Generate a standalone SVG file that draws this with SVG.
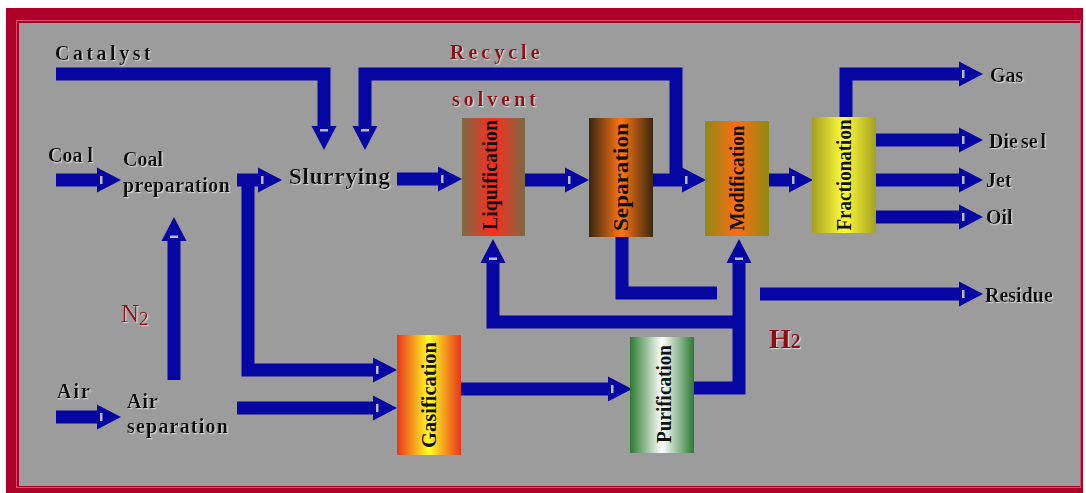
<svg xmlns="http://www.w3.org/2000/svg" width="1086" height="493" viewBox="0 0 1086 493">
  <style>
    .flow { fill: none; stroke: #0606a2; stroke-width: 13; stroke-linejoin: miter; stroke-linecap: butt; }
    .arr { marker-end: url(#head); }
    .lbl { font-family: "Liberation Serif", "Times New Roman", serif; font-weight: bold; font-size: 20px; fill: #111; filter: url(#glow); }
    .red { fill: #8e0c14; }
    .box { stroke: none; }
    .vt { font-family: "Liberation Serif", "Times New Roman", serif; font-weight: bold; font-size: 21px; fill: #111; text-anchor: middle; }
  </style>
  <defs>
    <filter id="glow" x="-10%" y="-30%" width="130%" height="160%">
      <feDropShadow dx="1.2" dy="1.2" stdDeviation="0.6" flood-color="#ffffff" flood-opacity="0.55"/>
    </filter>
    <marker id="head" markerUnits="userSpaceOnUse" viewBox="0 -13 25 26" markerWidth="25" markerHeight="26" refX="0" refY="0" orient="auto" overflow="visible">
      <path d="M0,-12.5 L24,0 L0,12.5 Z" fill="#0606a2"/>
      <rect x="3" y="-4" width="2.5" height="8" fill="#b9b9d6"/>
    </marker>
    <linearGradient id="gLiq" x1="0" y1="0" x2="1" y2="0">
      <stop offset="0" stop-color="#7a6a44"/>
      <stop offset="0.5" stop-color="#ff2c1c"/>
      <stop offset="1" stop-color="#7a6a44"/>
    </linearGradient>
    <linearGradient id="gSep" x1="0" y1="0" x2="1" y2="0">
      <stop offset="0" stop-color="#3a2810"/>
      <stop offset="0.5" stop-color="#ff7512"/>
      <stop offset="1" stop-color="#3a2810"/>
    </linearGradient>
    <linearGradient id="gMod" x1="0" y1="0" x2="1" y2="0">
      <stop offset="0" stop-color="#8e8a14"/>
      <stop offset="0.5" stop-color="#ff6c12"/>
      <stop offset="1" stop-color="#8e8a14"/>
    </linearGradient>
    <linearGradient id="gFra" x1="0" y1="0" x2="1" y2="0">
      <stop offset="0" stop-color="#a4a020"/>
      <stop offset="0.5" stop-color="#ffff3a"/>
      <stop offset="1" stop-color="#a4a020"/>
    </linearGradient>
    <linearGradient id="gGas" x1="0" y1="0" x2="1" y2="0">
      <stop offset="0" stop-color="#e8361a"/>
      <stop offset="0.5" stop-color="#ffff22"/>
      <stop offset="1" stop-color="#e8361a"/>
    </linearGradient>
    <linearGradient id="gPur" x1="0" y1="0" x2="1" y2="0">
      <stop offset="0" stop-color="#2c7a32"/>
      <stop offset="0.5" stop-color="#ffffff"/>
      <stop offset="1" stop-color="#2c7a32"/>
    </linearGradient>
  </defs>

  <!-- page and frame -->
  <rect x="0" y="0" width="1086" height="493" fill="#ffffff"/>
  <rect x="6" y="8" width="1077" height="485" fill="#b0002a"/>
  <rect x="16.5" y="20.5" width="1064" height="467" fill="none" stroke="#d85070" stroke-width="1"/>
  <rect x="19" y="23" width="1061" height="463" fill="#9c9c9c"/>

  <!-- flows -->
  <g id="connectors">
    <path class="flow arr" d="M56,74 H324 V126"/>
    <path class="flow arr" d="M676,186 V74 H365 V126"/>
    <path class="flow arr" d="M56,180 H97"/>
    <path class="flow arr" d="M237,180 H258"/>
    <path class="flow arr" d="M248,174 V370 H373"/>
    <path class="flow arr" d="M174,380 V241"/>
    <path class="flow arr" d="M56,417 H97"/>
    <path class="flow arr" d="M237,408 H373"/>
    <path class="flow arr" d="M397,179 H438"/>
    <path class="flow arr" d="M525,180 H565"/>
    <path class="flow arr" d="M653,180 H682"/>
    <path class="flow arr" d="M769,180 H789"/>
    <path class="flow arr" d="M846,117 V74 H959"/>
    <path class="flow arr" d="M876,140 H959"/>
    <path class="flow arr" d="M876,180 H959"/>
    <path class="flow arr" d="M876,217 H959"/>
    <path class="flow arr" d="M461,389 H608"/>
    <path class="flow arr" d="M694,388 H739 V263"/>
    <path class="flow arr" d="M739,322 H493 V263"/>
    <path class="flow" d="M622,237 V293 H717"/>
    <path class="flow arr" d="M760,294 H959"/>
  </g>

  <!-- free labels -->
  <g id="labels">
    <text class="lbl" x="55" y="60" letter-spacing="3.5">Catalyst</text>
    <text class="lbl red" x="450" y="59" letter-spacing="4">Recycle</text>
    <text class="lbl red" x="452" y="106" letter-spacing="4">solvent</text>
    <text class="lbl" x="48" y="162">Coa<tspan dx="5">l</tspan></text>
    <text class="lbl" x="57" y="398" letter-spacing="2">Air</text>
    <text class="lbl red" x="121" y="322" style="font-weight:normal;font-size:25px">N<tspan style="font-size:19px" dy="3">2</tspan></text>
    <text class="lbl red" x="769" y="348" style="font-size:28px">H<tspan style="font-size:20px">2</tspan></text>
    <text class="lbl" x="990" y="82">Gas</text>
    <text class="lbl" x="989" y="148">Die<tspan dx="3">se</tspan><tspan dx="3">l</tspan></text>
    <text class="lbl" x="986" y="187">Jet</text>
    <text class="lbl" x="986" y="224">Oil</text>
    <text class="lbl" x="985" y="302">Residue</text>
  </g>

  <!-- process steps -->
  <g id="coal-preparation">
    <text class="lbl" x="123" y="166">Coal</text>
    <text class="lbl" x="123" y="192" letter-spacing="0.5">preparation</text>
  </g>
  <g id="air-separation">
    <text class="lbl" x="127" y="408" letter-spacing="1">Air</text>
    <text class="lbl" x="127" y="433" letter-spacing="1.2">separation</text>
  </g>
  <g id="slurrying">
    <text class="lbl" x="289" y="184" style="font-size:23px" letter-spacing="0.8">Slurrying</text>
  </g>
  <g id="liquification">
    <rect class="box" x="462" y="118" width="63" height="118" fill="url(#gLiq)"/>
    <text class="vt" transform="translate(490,175) rotate(-90)" x="0" y="7" textLength="110" lengthAdjust="spacingAndGlyphs">Liquification</text>
  </g>
  <g id="separation">
    <rect class="box" x="589" y="118" width="64" height="119" fill="url(#gSep)"/>
    <text class="vt" transform="translate(621,177) rotate(-90)" x="0" y="7" textLength="108" lengthAdjust="spacingAndGlyphs">Separation</text>
  </g>
  <g id="modification">
    <rect class="box" x="705" y="121" width="64" height="115" fill="url(#gMod)"/>
    <text class="vt" transform="translate(737,178) rotate(-90)" x="0" y="7" textLength="105" lengthAdjust="spacingAndGlyphs">Modification</text>
  </g>
  <g id="fractionation">
    <rect class="box" x="812" y="117" width="64" height="116" fill="url(#gFra)"/>
    <text class="vt" transform="translate(844,175) rotate(-90)" x="0" y="7" textLength="111" lengthAdjust="spacingAndGlyphs">Fractionation</text>
  </g>
  <g id="gasification">
    <rect class="box" x="397" y="335" width="64" height="120" fill="url(#gGas)"/>
    <text class="vt" transform="translate(429,395) rotate(-90)" x="0" y="7" textLength="106" lengthAdjust="spacingAndGlyphs">Gasification</text>
  </g>
  <g id="purification">
    <rect class="box" x="630" y="337" width="64" height="116" fill="url(#gPur)"/>
    <text class="vt" transform="translate(664,394) rotate(-90)" x="0" y="7" textLength="98" lengthAdjust="spacingAndGlyphs">Purification</text>
  </g>
</svg>
